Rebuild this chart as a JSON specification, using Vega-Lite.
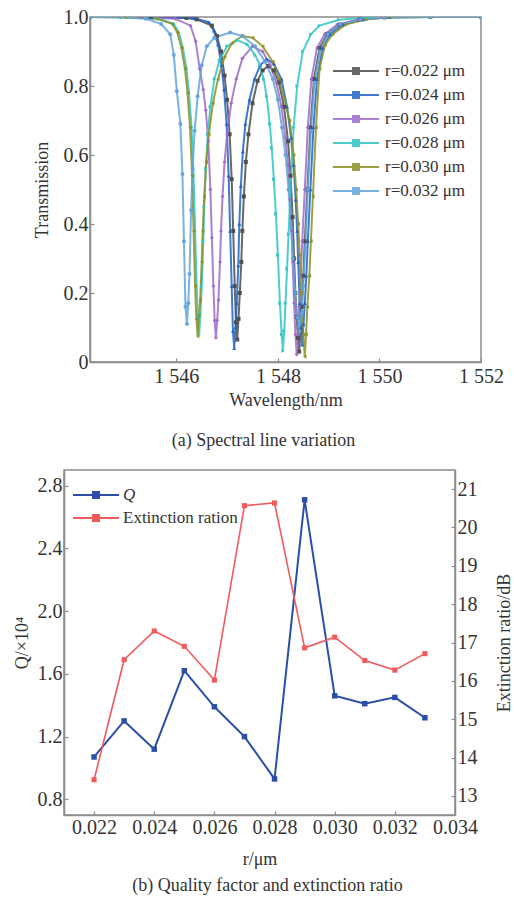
{
  "$schema": "https://vega.github.io/schema/vega-lite/v6.json",
  "padding": {"left": 11, "top": 6, "right": 0, "bottom": 0},
  "background": "white",
  "config": {
    "view": {"stroke": null},
    "font": "Liberation Serif",
    "axis": {
      "grid": false,
      "domainColor": "#8c8c8c",
      "domainWidth": 1.5,
      "tickColor": "#8c8c8c",
      "tickSize": -4,
      "tickWidth": 1.2,
      "labelFont": "Liberation Serif",
      "labelFontSize": 20,
      "labelColor": "#333333",
      "labelPadding": 6,
      "labelFlush": false,
      "labelOverlap": false,
      "titleFont": "Liberation Serif",
      "titleFontSize": 18,
      "titleFontWeight": "normal",
      "titleColor": "#333333"
    },
    "legend": {
      "labelFont": "Liberation Serif",
      "labelColor": "#333333",
      "padding": 0
    },
    "title": {
      "font": "Liberation Serif",
      "fontSize": 18,
      "fontWeight": "normal",
      "color": "#333333"
    }
  },
  "spacing": 18,
  "resolve": {"scale": {"color": "independent"}, "legend": {"color": "independent"}},
  "vconcat": [
    {
      "spacing": 0,
      "hconcat": [
        {"width": 21, "height": 1, "data": {"values": []}, "mark": "point"},
        {
          "width": 391,
          "height": 345,
          "view": {"stroke": "#8c8c8c", "strokeWidth": 1.5},
          "title": {"text": "(a) Spectral line variation", "orient": "bottom", "anchor": "middle", "offset": 23, "dx": -22},
          "data": {"values": [
            {"s":"r=0.022 μm","w":1544.3,"t":1},{"s":"r=0.022 μm","w":1545.5,"t":1},{"s":"r=0.022 μm","w":1546.2,"t":0.997},{"s":"r=0.022 μm","w":1546.4,"t":0.993},{"s":"r=0.022 μm","w":1546.7,"t":0.975},{"s":"r=0.022 μm","w":1546.8,"t":0.945},{"s":"r=0.022 μm","w":1546.88,"t":0.9},{"s":"r=0.022 μm","w":1546.95,"t":0.83},{"s":"r=0.022 μm","w":1547.0,"t":0.76},{"s":"r=0.022 μm","w":1547.05,"t":0.66},{"s":"r=0.022 μm","w":1547.09,"t":0.53},{"s":"r=0.022 μm","w":1547.12,"t":0.38},{"s":"r=0.022 μm","w":1547.15,"t":0.22},{"s":"r=0.022 μm","w":1547.175,"t":0.115},{"s":"r=0.022 μm","w":1547.2,"t":0.065},{"s":"r=0.022 μm","w":1547.225,"t":0.125},{"s":"r=0.022 μm","w":1547.25,"t":0.2},{"s":"r=0.022 μm","w":1547.28,"t":0.29},{"s":"r=0.022 μm","w":1547.3,"t":0.38},{"s":"r=0.022 μm","w":1547.33,"t":0.48},{"s":"r=0.022 μm","w":1547.37,"t":0.58},{"s":"r=0.022 μm","w":1547.42,"t":0.66},{"s":"r=0.022 μm","w":1547.5,"t":0.75},{"s":"r=0.022 μm","w":1547.6,"t":0.815},{"s":"r=0.022 μm","w":1547.7,"t":0.845},{"s":"r=0.022 μm","w":1547.81,"t":0.858},{"s":"r=0.022 μm","w":1547.92,"t":0.845},{"s":"r=0.022 μm","w":1548.02,"t":0.81},{"s":"r=0.022 μm","w":1548.12,"t":0.74},{"s":"r=0.022 μm","w":1548.2,"t":0.64},{"s":"r=0.022 μm","w":1548.25,"t":0.54},{"s":"r=0.022 μm","w":1548.29,"t":0.42},{"s":"r=0.022 μm","w":1548.32,"t":0.3},{"s":"r=0.022 μm","w":1548.345,"t":0.2},{"s":"r=0.022 μm","w":1548.37,"t":0.13},{"s":"r=0.022 μm","w":1548.395,"t":0.07},{"s":"r=0.022 μm","w":1548.42,"t":0.03},{"s":"r=0.022 μm","w":1548.445,"t":0.09},{"s":"r=0.022 μm","w":1548.47,"t":0.16},{"s":"r=0.022 μm","w":1548.5,"t":0.25},{"s":"r=0.022 μm","w":1548.53,"t":0.35},{"s":"r=0.022 μm","w":1548.58,"t":0.5},{"s":"r=0.022 μm","w":1548.64,"t":0.68},{"s":"r=0.022 μm","w":1548.71,"t":0.82},{"s":"r=0.022 μm","w":1548.82,"t":0.91},{"s":"r=0.022 μm","w":1548.97,"t":0.95},{"s":"r=0.022 μm","w":1549.22,"t":0.978},{"s":"r=0.022 μm","w":1549.62,"t":0.993},{"s":"r=0.022 μm","w":1550.1,"t":0.999},{"s":"r=0.022 μm","w":1551,"t":1},{"s":"r=0.022 μm","w":1552,"t":1},

            {"s":"r=0.024 μm","w":1544.3,"t":1},{"s":"r=0.024 μm","w":1545.5,"t":1},{"s":"r=0.024 μm","w":1546.34,"t":0.997},{"s":"r=0.024 μm","w":1546.64,"t":0.985},{"s":"r=0.024 μm","w":1546.74,"t":0.96},{"s":"r=0.024 μm","w":1546.82,"t":0.92},{"s":"r=0.024 μm","w":1546.89,"t":0.86},{"s":"r=0.024 μm","w":1546.94,"t":0.79},{"s":"r=0.024 μm","w":1546.99,"t":0.69},{"s":"r=0.024 μm","w":1547.03,"t":0.54},{"s":"r=0.024 μm","w":1547.06,"t":0.38},{"s":"r=0.024 μm","w":1547.09,"t":0.22},{"s":"r=0.024 μm","w":1547.115,"t":0.09},{"s":"r=0.024 μm","w":1547.14,"t":0.04},{"s":"r=0.024 μm","w":1547.165,"t":0.1},{"s":"r=0.024 μm","w":1547.19,"t":0.17},{"s":"r=0.024 μm","w":1547.22,"t":0.28},{"s":"r=0.024 μm","w":1547.24,"t":0.4},{"s":"r=0.024 μm","w":1547.27,"t":0.51},{"s":"r=0.024 μm","w":1547.31,"t":0.61},{"s":"r=0.024 μm","w":1547.36,"t":0.69},{"s":"r=0.024 μm","w":1547.44,"t":0.76},{"s":"r=0.024 μm","w":1547.54,"t":0.82},{"s":"r=0.024 μm","w":1547.65,"t":0.86},{"s":"r=0.024 μm","w":1547.78,"t":0.878},{"s":"r=0.024 μm","w":1547.92,"t":0.865},{"s":"r=0.024 μm","w":1548.07,"t":0.82},{"s":"r=0.024 μm","w":1548.18,"t":0.74},{"s":"r=0.024 μm","w":1548.26,"t":0.65},{"s":"r=0.024 μm","w":1548.31,"t":0.57},{"s":"r=0.024 μm","w":1548.35,"t":0.47},{"s":"r=0.024 μm","w":1548.38,"t":0.38},{"s":"r=0.024 μm","w":1548.4,"t":0.29},{"s":"r=0.024 μm","w":1548.43,"t":0.17},{"s":"r=0.024 μm","w":1548.455,"t":0.1},{"s":"r=0.024 μm","w":1548.48,"t":0.05},{"s":"r=0.024 μm","w":1548.505,"t":0.11},{"s":"r=0.024 μm","w":1548.53,"t":0.17},{"s":"r=0.024 μm","w":1548.56,"t":0.25},{"s":"r=0.024 μm","w":1548.59,"t":0.35},{"s":"r=0.024 μm","w":1548.64,"t":0.5},{"s":"r=0.024 μm","w":1548.7,"t":0.68},{"s":"r=0.024 μm","w":1548.77,"t":0.82},{"s":"r=0.024 μm","w":1548.88,"t":0.91},{"s":"r=0.024 μm","w":1549.03,"t":0.95},{"s":"r=0.024 μm","w":1549.28,"t":0.978},{"s":"r=0.024 μm","w":1549.68,"t":0.993},{"s":"r=0.024 μm","w":1550.2,"t":0.999},{"s":"r=0.024 μm","w":1551,"t":1},{"s":"r=0.024 μm","w":1552,"t":1},

            {"s":"r=0.026 μm","w":1544.3,"t":1},{"s":"r=0.026 μm","w":1545.3,"t":0.999},{"s":"r=0.026 μm","w":1545.98,"t":0.995},{"s":"r=0.026 μm","w":1546.28,"t":0.975},{"s":"r=0.026 μm","w":1546.38,"t":0.93},{"s":"r=0.026 μm","w":1546.46,"t":0.85},{"s":"r=0.026 μm","w":1546.53,"t":0.79},{"s":"r=0.026 μm","w":1546.58,"t":0.73},{"s":"r=0.026 μm","w":1546.63,"t":0.64},{"s":"r=0.026 μm","w":1546.67,"t":0.5},{"s":"r=0.026 μm","w":1546.7,"t":0.36},{"s":"r=0.026 μm","w":1546.73,"t":0.22},{"s":"r=0.026 μm","w":1546.755,"t":0.12},{"s":"r=0.026 μm","w":1546.78,"t":0.07},{"s":"r=0.026 μm","w":1546.805,"t":0.12},{"s":"r=0.026 μm","w":1546.83,"t":0.18},{"s":"r=0.026 μm","w":1546.86,"t":0.29},{"s":"r=0.026 μm","w":1546.88,"t":0.38},{"s":"r=0.026 μm","w":1546.91,"t":0.48},{"s":"r=0.026 μm","w":1546.95,"t":0.58},{"s":"r=0.026 μm","w":1547.0,"t":0.66},{"s":"r=0.026 μm","w":1547.08,"t":0.75},{"s":"r=0.026 μm","w":1547.18,"t":0.82},{"s":"r=0.026 μm","w":1547.3,"t":0.88},{"s":"r=0.026 μm","w":1547.5,"t":0.915},{"s":"r=0.026 μm","w":1547.7,"t":0.9},{"s":"r=0.026 μm","w":1547.85,"t":0.86},{"s":"r=0.026 μm","w":1547.97,"t":0.81},{"s":"r=0.026 μm","w":1548.07,"t":0.74},{"s":"r=0.026 μm","w":1548.15,"t":0.65},{"s":"r=0.026 μm","w":1548.2,"t":0.57},{"s":"r=0.026 μm","w":1548.24,"t":0.47},{"s":"r=0.026 μm","w":1548.27,"t":0.38},{"s":"r=0.026 μm","w":1548.29,"t":0.29},{"s":"r=0.026 μm","w":1548.32,"t":0.17},{"s":"r=0.026 μm","w":1548.345,"t":0.08},{"s":"r=0.026 μm","w":1548.37,"t":0.022},{"s":"r=0.026 μm","w":1548.395,"t":0.08},{"s":"r=0.026 μm","w":1548.42,"t":0.16},{"s":"r=0.026 μm","w":1548.45,"t":0.25},{"s":"r=0.026 μm","w":1548.48,"t":0.35},{"s":"r=0.026 μm","w":1548.53,"t":0.5},{"s":"r=0.026 μm","w":1548.59,"t":0.68},{"s":"r=0.026 μm","w":1548.66,"t":0.82},{"s":"r=0.026 μm","w":1548.77,"t":0.91},{"s":"r=0.026 μm","w":1548.92,"t":0.95},{"s":"r=0.026 μm","w":1549.17,"t":0.978},{"s":"r=0.026 μm","w":1549.57,"t":0.993},{"s":"r=0.026 μm","w":1550.07,"t":0.999},{"s":"r=0.026 μm","w":1551,"t":1},{"s":"r=0.026 μm","w":1552,"t":1},

            {"s":"r=0.028 μm","w":1544.3,"t":1},{"s":"r=0.028 μm","w":1545.0,"t":0.999},{"s":"r=0.028 μm","w":1545.65,"t":0.995},{"s":"r=0.028 μm","w":1545.95,"t":0.98},{"s":"r=0.028 μm","w":1546.05,"t":0.955},{"s":"r=0.028 μm","w":1546.13,"t":0.91},{"s":"r=0.028 μm","w":1546.2,"t":0.85},{"s":"r=0.028 μm","w":1546.25,"t":0.78},{"s":"r=0.028 μm","w":1546.3,"t":0.68},{"s":"r=0.028 μm","w":1546.34,"t":0.54},{"s":"r=0.028 μm","w":1546.37,"t":0.38},{"s":"r=0.028 μm","w":1546.4,"t":0.22},{"s":"r=0.028 μm","w":1546.425,"t":0.13},{"s":"r=0.028 μm","w":1546.45,"t":0.08},{"s":"r=0.028 μm","w":1546.475,"t":0.14},{"s":"r=0.028 μm","w":1546.5,"t":0.22},{"s":"r=0.028 μm","w":1546.53,"t":0.35},{"s":"r=0.028 μm","w":1546.55,"t":0.45},{"s":"r=0.028 μm","w":1546.58,"t":0.56},{"s":"r=0.028 μm","w":1546.62,"t":0.66},{"s":"r=0.028 μm","w":1546.67,"t":0.74},{"s":"r=0.028 μm","w":1546.75,"t":0.82},{"s":"r=0.028 μm","w":1546.85,"t":0.875},{"s":"r=0.028 μm","w":1547.0,"t":0.915},{"s":"r=0.028 μm","w":1547.2,"t":0.933},{"s":"r=0.028 μm","w":1547.4,"t":0.92},{"s":"r=0.028 μm","w":1547.55,"t":0.89},{"s":"r=0.028 μm","w":1547.65,"t":0.86},{"s":"r=0.028 μm","w":1547.72,"t":0.82},{"s":"r=0.028 μm","w":1547.78,"t":0.77},{"s":"r=0.028 μm","w":1547.84,"t":0.69},{"s":"r=0.028 μm","w":1547.88,"t":0.62},{"s":"r=0.028 μm","w":1547.92,"t":0.53},{"s":"r=0.028 μm","w":1547.96,"t":0.43},{"s":"r=0.028 μm","w":1548.0,"t":0.31},{"s":"r=0.028 μm","w":1548.04,"t":0.17},{"s":"r=0.028 μm","w":1548.075,"t":0.08},{"s":"r=0.028 μm","w":1548.1,"t":0.032},{"s":"r=0.028 μm","w":1548.125,"t":0.09},{"s":"r=0.028 μm","w":1548.15,"t":0.17},{"s":"r=0.028 μm","w":1548.18,"t":0.27},{"s":"r=0.028 μm","w":1548.21,"t":0.37},{"s":"r=0.028 μm","w":1548.25,"t":0.5},{"s":"r=0.028 μm","w":1548.31,"t":0.68},{"s":"r=0.028 μm","w":1548.38,"t":0.8},{"s":"r=0.028 μm","w":1548.49,"t":0.9},{"s":"r=0.028 μm","w":1548.65,"t":0.95},{"s":"r=0.028 μm","w":1548.82,"t":0.975},{"s":"r=0.028 μm","w":1549.2,"t":0.992},{"s":"r=0.028 μm","w":1549.8,"t":0.999},{"s":"r=0.028 μm","w":1551,"t":1},{"s":"r=0.028 μm","w":1552,"t":1},

            {"s":"r=0.030 μm","w":1544.3,"t":1},{"s":"r=0.030 μm","w":1545.0,"t":0.999},{"s":"r=0.030 μm","w":1545.62,"t":0.995},{"s":"r=0.030 μm","w":1545.92,"t":0.98},{"s":"r=0.030 μm","w":1546.02,"t":0.955},{"s":"r=0.030 μm","w":1546.1,"t":0.91},{"s":"r=0.030 μm","w":1546.17,"t":0.85},{"s":"r=0.030 μm","w":1546.22,"t":0.78},{"s":"r=0.030 μm","w":1546.27,"t":0.68},{"s":"r=0.030 μm","w":1546.31,"t":0.54},{"s":"r=0.030 μm","w":1546.34,"t":0.38},{"s":"r=0.030 μm","w":1546.37,"t":0.22},{"s":"r=0.030 μm","w":1546.395,"t":0.125},{"s":"r=0.030 μm","w":1546.42,"t":0.075},{"s":"r=0.030 μm","w":1546.445,"t":0.135},{"s":"r=0.030 μm","w":1546.47,"t":0.18},{"s":"r=0.030 μm","w":1546.5,"t":0.29},{"s":"r=0.030 μm","w":1546.52,"t":0.38},{"s":"r=0.030 μm","w":1546.55,"t":0.48},{"s":"r=0.030 μm","w":1546.59,"t":0.58},{"s":"r=0.030 μm","w":1546.64,"t":0.66},{"s":"r=0.030 μm","w":1546.72,"t":0.75},{"s":"r=0.030 μm","w":1546.82,"t":0.82},{"s":"r=0.030 μm","w":1546.95,"t":0.885},{"s":"r=0.030 μm","w":1547.1,"t":0.925},{"s":"r=0.030 μm","w":1547.3,"t":0.945},{"s":"r=0.030 μm","w":1547.5,"t":0.94},{"s":"r=0.030 μm","w":1547.7,"t":0.915},{"s":"r=0.030 μm","w":1547.9,"t":0.87},{"s":"r=0.030 μm","w":1548.02,"t":0.82},{"s":"r=0.030 μm","w":1548.13,"t":0.76},{"s":"r=0.030 μm","w":1548.23,"t":0.7},{"s":"r=0.030 μm","w":1548.31,"t":0.6},{"s":"r=0.030 μm","w":1548.36,"t":0.5},{"s":"r=0.030 μm","w":1548.4,"t":0.4},{"s":"r=0.030 μm","w":1548.43,"t":0.31},{"s":"r=0.030 μm","w":1548.46,"t":0.2},{"s":"r=0.030 μm","w":1548.5,"t":0.08},{"s":"r=0.030 μm","w":1548.53,"t":0.015},{"s":"r=0.030 μm","w":1548.555,"t":0.08},{"s":"r=0.030 μm","w":1548.58,"t":0.16},{"s":"r=0.030 μm","w":1548.62,"t":0.25},{"s":"r=0.030 μm","w":1548.65,"t":0.35},{"s":"r=0.030 μm","w":1548.69,"t":0.48},{"s":"r=0.030 μm","w":1548.75,"t":0.68},{"s":"r=0.030 μm","w":1548.82,"t":0.85},{"s":"r=0.030 μm","w":1548.93,"t":0.92},{"s":"r=0.030 μm","w":1549.08,"t":0.95},{"s":"r=0.030 μm","w":1549.33,"t":0.978},{"s":"r=0.030 μm","w":1549.73,"t":0.993},{"s":"r=0.030 μm","w":1550.2,"t":0.999},{"s":"r=0.030 μm","w":1551,"t":1},{"s":"r=0.030 μm","w":1552,"t":1},

            {"s":"r=0.032 μm","w":1544.3,"t":1},{"s":"r=0.032 μm","w":1544.9,"t":0.999},{"s":"r=0.032 μm","w":1545.4,"t":0.995},{"s":"r=0.032 μm","w":1545.7,"t":0.98},{"s":"r=0.032 μm","w":1545.88,"t":0.95},{"s":"r=0.032 μm","w":1545.95,"t":0.89},{"s":"r=0.032 μm","w":1546.01,"t":0.785},{"s":"r=0.032 μm","w":1546.08,"t":0.69},{"s":"r=0.032 μm","w":1546.12,"t":0.545},{"s":"r=0.032 μm","w":1546.15,"t":0.35},{"s":"r=0.032 μm","w":1546.18,"t":0.16},{"s":"r=0.032 μm","w":1546.21,"t":0.11},{"s":"r=0.032 μm","w":1546.235,"t":0.17},{"s":"r=0.032 μm","w":1546.26,"t":0.255},{"s":"r=0.032 μm","w":1546.29,"t":0.44},{"s":"r=0.032 μm","w":1546.32,"t":0.56},{"s":"r=0.032 μm","w":1546.36,"t":0.67},{"s":"r=0.032 μm","w":1546.42,"t":0.77},{"s":"r=0.032 μm","w":1546.5,"t":0.86},{"s":"r=0.032 μm","w":1546.6,"t":0.915},{"s":"r=0.032 μm","w":1546.75,"t":0.94},{"s":"r=0.032 μm","w":1547.06,"t":0.955},{"s":"r=0.032 μm","w":1547.3,"t":0.945},{"s":"r=0.032 μm","w":1547.55,"t":0.915},{"s":"r=0.032 μm","w":1547.75,"t":0.87},{"s":"r=0.032 μm","w":1547.9,"t":0.82},{"s":"r=0.032 μm","w":1548.0,"t":0.76},{"s":"r=0.032 μm","w":1548.08,"t":0.68},{"s":"r=0.032 μm","w":1548.15,"t":0.6},{"s":"r=0.032 μm","w":1548.21,"t":0.5},{"s":"r=0.032 μm","w":1548.26,"t":0.39},{"s":"r=0.032 μm","w":1548.3,"t":0.3},{"s":"r=0.032 μm","w":1548.34,"t":0.2},{"s":"r=0.032 μm","w":1548.38,"t":0.13},{"s":"r=0.032 μm","w":1548.43,"t":0.09},{"s":"r=0.032 μm","w":1548.47,"t":0.14},{"s":"r=0.032 μm","w":1548.5,"t":0.22},{"s":"r=0.032 μm","w":1548.54,"t":0.33},{"s":"r=0.032 μm","w":1548.59,"t":0.5},{"s":"r=0.032 μm","w":1548.65,"t":0.67},{"s":"r=0.032 μm","w":1548.72,"t":0.81},{"s":"r=0.032 μm","w":1548.83,"t":0.9},{"s":"r=0.032 μm","w":1548.98,"t":0.95},{"s":"r=0.032 μm","w":1549.23,"t":0.978},{"s":"r=0.032 μm","w":1549.63,"t":0.993},{"s":"r=0.032 μm","w":1550.1,"t":0.999},{"s":"r=0.032 μm","w":1551,"t":1},{"s":"r=0.032 μm","w":1552,"t":1}
          ]},
          "encoding": {
            "x": {"field": "w", "type": "quantitative",
                  "scale": {"domain": [1544.3, 1552], "nice": false, "zero": false},
                  "axis": {"title": "Wavelength/nm", "values": [1546, 1548, 1550, 1552],
                           "labelExpr": "'1 ' + substring(toString(datum.value), 1)", "labelPadding": 8, "titlePadding": 5}},
            "y": {"field": "t", "type": "quantitative",
                  "scale": {"domain": [0, 1], "nice": false},
                  "axis": {"title": "Transmission", "values": [0, 0.2, 0.4, 0.6, 0.8, 1],
                           "labelExpr": "datum.value == 0 ? '0' : format(datum.value, '.1f')", "titlePadding": 12}},
            "color": {"field": "s", "type": "nominal",
                      "scale": {"domain": ["r=0.022 μm","r=0.024 μm","r=0.026 μm","r=0.028 μm","r=0.030 μm","r=0.032 μm"],
                                "range": ["#4d4d4d","#1f63c6","#9d6ac9","#2fc4c2","#8d8f25","#62a4d9"]},
                      "legend": {"title": null, "orient": "none", "legendX": 347, "legendY": 43,
                                 "symbolType": "M-3.6,0H1M-1.6,-0.3H-1V0.3H-1.6Z", "symbolSize": 400,
                                 "symbolStrokeWidth": 2, "labelFontSize": 17, "labelOffset": 5, "rowPadding": 5}}
          },
          "layer": [
            {"mark": {"type": "line", "strokeWidth": 2, "opacity": 0.85, "clip": true}},
            {"transform": [{"filter": {"field": "s", "equal": "r=0.022 μm"}}],
             "mark": {"type": "point", "shape": "square", "filled": true, "size": 16, "opacity": 0.95, "clip": true}},
            {"transform": [{"filter": {"field": "s", "equal": "r=0.024 μm"}}],
             "mark": {"type": "point", "shape": "triangle-up", "filled": true, "size": 16, "opacity": 0.95, "clip": true}},
            {"transform": [{"filter": {"field": "s", "equal": "r=0.026 μm"}}],
             "mark": {"type": "point", "shape": "diamond", "filled": true, "size": 16, "opacity": 0.95, "clip": true}},
            {"transform": [{"filter": {"field": "s", "equal": "r=0.028 μm"}}],
             "mark": {"type": "point", "shape": "triangle-right", "filled": true, "size": 16, "opacity": 0.95, "clip": true}},
            {"transform": [{"filter": {"field": "s", "equal": "r=0.030 μm"}}],
             "mark": {"type": "point", "shape": "triangle-left", "filled": true, "size": 16, "opacity": 0.95, "clip": true}},
            {"transform": [{"filter": {"field": "s", "equal": "r=0.032 μm"}}],
             "mark": {"type": "point", "shape": "circle", "filled": true, "size": 16, "opacity": 0.95, "clip": true}}
          ]
        }
      ]
    },
    {
      "spacing": 0,
      "hconcat": [
        {"width": 1, "height": 1, "data": {"values": []}, "mark": "point"},
        {
          "width": 391,
          "height": 345,
          "view": {"stroke": "#8c8c8c", "strokeWidth": 1.5},
          "title": {"text": "(b) Quality factor and extinction ratio", "orient": "bottom", "anchor": "middle", "offset": 9, "dx": 8},
          "data": {"values": [
            {"r": 0.022, "Q": 1.07, "E": 13.42},
            {"r": 0.023, "Q": 1.30, "E": 16.55},
            {"r": 0.024, "Q": 1.12, "E": 17.3},
            {"r": 0.025, "Q": 1.62, "E": 16.9},
            {"r": 0.026, "Q": 1.39, "E": 16.02},
            {"r": 0.027, "Q": 1.20, "E": 20.57},
            {"r": 0.028, "Q": 0.93, "E": 20.64},
            {"r": 0.029, "Q": 2.71, "E": 16.86},
            {"r": 0.030, "Q": 1.46, "E": 17.14},
            {"r": 0.031, "Q": 1.41, "E": 16.53},
            {"r": 0.032, "Q": 1.45, "E": 16.28},
            {"r": 0.033, "Q": 1.32, "E": 16.71}
          ]},
          "encoding": {
            "x": {"field": "r", "type": "quantitative",
                  "scale": {"domain": [0.021, 0.034], "nice": false, "zero": false},
                  "axis": {"title": "r/μm", "values": [0.022, 0.024, 0.026, 0.028, 0.030, 0.032, 0.034], "format": ".3f", "titlePadding": 13}}
          },
          "layer": [
            {
              "mark": {"type": "line", "strokeWidth": 2, "point": {"shape": "square", "filled": true, "size": 30}},
              "encoding": {
                "y": {"field": "Q", "type": "quantitative",
                      "scale": {"domain": [0.7, 2.9], "nice": false, "zero": false},
                      "axis": {"title": "Q/×10⁴", "values": [0.8, 1.2, 1.6, 2.0, 2.4, 2.8], "format": ".1f", "titlePadding": 6}},
                "color": {"datum": "Q", "type": "nominal",
                          "scale": {"domain": ["Q", "Extinction ration"], "range": ["#2b4ea8", "#f05a5c"]},
                          "legend": {"title": null, "orient": "none", "legendX": 87, "legendY": 14,
                                     "symbolType": "M-3.6,0H1M-1.6,-0.3H-1V0.3H-1.6Z", "symbolSize": 400,
                                     "symbolStrokeWidth": 2, "labelFontSize": 17, "labelOffset": 3, "rowPadding": 4,
                                     "encode": {"labels": {"update": {"fontStyle": {"signal": "datum.label === 'Q' ? 'italic' : 'normal'"}}}}}}
              }
            },
            {
              "mark": {"type": "line", "strokeWidth": 1.6, "point": {"shape": "square", "filled": true, "size": 26}},
              "encoding": {
                "y": {"field": "E", "type": "quantitative",
                      "scale": {"domain": [12.5, 21.5], "nice": false, "zero": false},
                      "axis": {"orient": "right", "title": "Extinction ratio/dB", "values": [13,14,15,16,17,18,19,20,21],
                               "titleAngle": -90, "titleBaseline": "top", "titlePadding": 18}},
                "color": {"datum": "Extinction ration", "type": "nominal"}
              }
            }
          ],
          "resolve": {"scale": {"y": "independent"}}
        }
      ]
    }
  ]
}
